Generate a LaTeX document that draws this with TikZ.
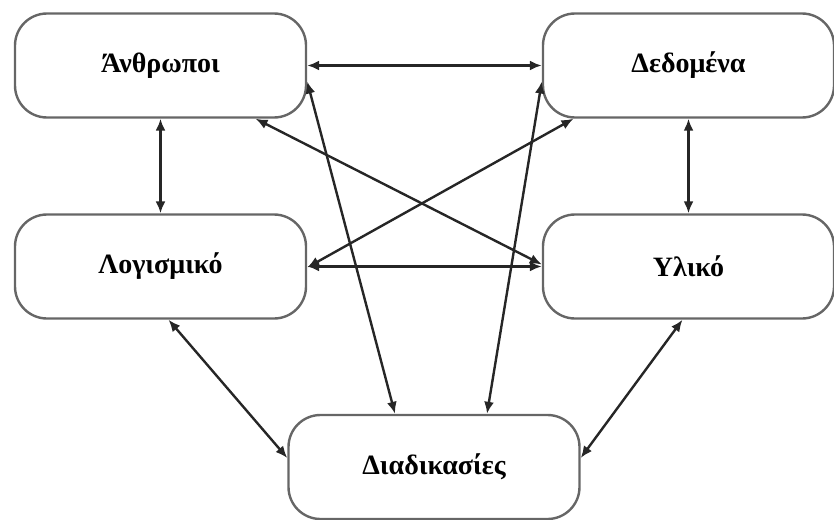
\documentclass[tikz,border=0pt]{standalone}
\usepackage{fontspec}
\setmainfont{Liberation Serif}
\usetikzlibrary{arrows.meta}
\tikzset{
  part/.style={draw=black!60, line width=2.4pt, rounded corners=32pt,
    minimum width=291pt, minimum height=104pt, inner sep=0pt,
    font=\fontsize{28}{31}\selectfont\bfseries, text=black},
  link/.style={draw=black!85, line width=2.4pt,
    {Latex[length=12pt,width=10pt]}-{Latex[length=12pt,width=10pt]}}
}
\begin{document}
\begin{tikzpicture}[x=1pt,y=-1pt]
  \useasboundingbox (0,0) rectangle (834,519);
  % the five components
  \node[part] (anth) at (160.5,65.5) {Άνθρωποι};
  \node[part] (dedo) at (688.5,65.5) {Δεδομένα};
  \node[part] (logi) at (160.5,266.5) {Λογισμικό};
  \node[part] (ylik) at (688.5,266.5) {Υλικό};
  \node[part] (diad) at (434,467) {Διαδικασίες};
  % relations between them
  \draw[link] (anth.east) -- (dedo.west);
  \draw[link] (anth.south) -- (logi.north);
  \draw[link] (dedo.south) -- (ylik.north);
  \draw[link] (logi.east) -- (ylik.west);
  \draw[link] ([xshift=95pt]anth.south) -- ([yshift=2pt]ylik.west);
  \draw[link] ([xshift=-115pt]dedo.south) -- ([yshift=-1pt]logi.east);
  \draw[link] ([yshift=-16pt]anth.east) -- ([xshift=-39pt]diad.north);
  \draw[link] ([yshift=-16pt]dedo.west) -- ([xshift=53pt]diad.north);
  \draw[link] ([xshift=8pt]logi.south) -- ([yshift=9pt]diad.west);
  \draw[link] ([xshift=-6pt]ylik.south) -- ([yshift=9pt]diad.east);
\end{tikzpicture}
\end{document}
